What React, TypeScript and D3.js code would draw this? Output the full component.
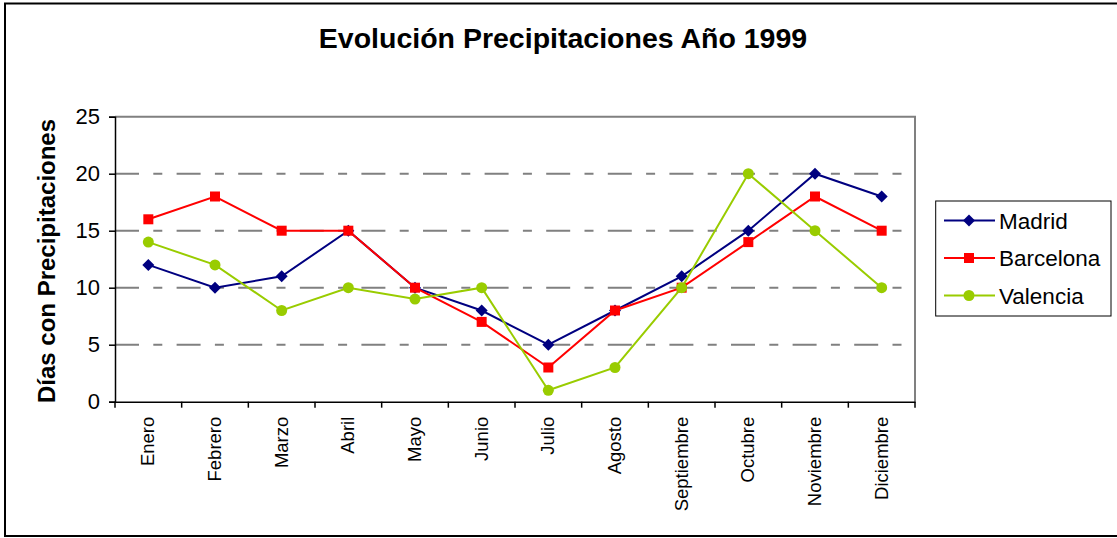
import React, { useEffect, useRef } from "react";
import * as d3 from "d3";

const months = [
  "Enero", "Febrero", "Marzo", "Abril", "Mayo", "Junio",
  "Julio", "Agosto", "Septiembre", "Octubre", "Noviembre", "Diciembre",
];
const madrid = [12, 10, 11, 15, 10, 8, 5, 8, 11, 15, 20, 18];
const barcelona = [16, 18, 15, 15, 10, 7, 3, 8, 10, 14, 18, 15];
const valencia = [14, 12, 8, 10, 9, 10, 1, 3, 10, 20, 15, 10];
const yTicks = [0, 5, 10, 15, 20, 25];

const series = [
  { name: "Madrid", values: madrid, color: "#000080", marker: "diamond" },
  { name: "Barcelona", values: barcelona, color: "#FF0000", marker: "square" },
  { name: "Valencia", values: valencia, color: "#99CC00", marker: "circle" },
];

const App = () => {
  const ref = useRef<SVGSVGElement>(null);

  useEffect(() => {
    const svg = d3.select(ref.current);
    svg.selectAll("*").remove();

    const width = 1117;
    const plot = { left: 115, right: 915, top: 116.7, bottom: 401.7 };
    const font = "Arial, 'Liberation Sans', sans-serif";

    // chart frame
    svg.append("rect")
      .attr("x", 5).attr("y", 3.5)
      .attr("width", width + 10).attr("height", 532.5)
      .attr("fill", "#fff").attr("stroke", "#000").attr("stroke-width", 2);

    const x = d3.scaleBand().domain(months).range([plot.left, plot.right]);
    const y = d3.scaleLinear().domain([0, 25]).range([plot.bottom, plot.top]);

    // gridlines
    svg.append("g")
      .selectAll("line")
      .data(yTicks.filter((t) => t > 0 && t < 25))
      .enter().append("line")
      .attr("x1", plot.left).attr("x2", plot.right)
      .attr("y1", (d) => y(d)).attr("y2", (d) => y(d))
      .attr("stroke", "#808080").attr("stroke-width", 2)
      .attr("stroke-dasharray", "24 14.3 9 14.3");

    // top and right border of plot area
    svg.append("path")
      .attr("d", `M${plot.left},${y(25)}H${plot.right}V${plot.bottom}`)
      .attr("fill", "none").attr("stroke", "#808080").attr("stroke-width", 2);

    // y axis
    const yAxis = svg.append("g")
      .attr("transform", `translate(${plot.left},0)`)
      .call(d3.axisLeft(y).tickValues(yTicks).tickSize(6).tickPadding(9));
    yAxis.select(".domain").attr("stroke", "#000").attr("stroke-width", 1.5);
    yAxis.selectAll(".tick line").attr("stroke", "#000").attr("stroke-width", 1.5);
    yAxis.selectAll(".tick text")
      .attr("font-family", font).attr("font-size", 22).attr("fill", "#000");

    // x axis
    const xAxis = svg.append("g")
      .attr("transform", `translate(0,${plot.bottom})`)
      .call(d3.axisBottom(x).tickSize(0).tickFormat(() => ""));
    xAxis.select(".domain").attr("stroke", "#000").attr("stroke-width", 1.5);
    xAxis.selectAll(".tick").remove();
    xAxis.selectAll("line.sep")
      .data(d3.range(months.length + 1))
      .enter().append("line")
      .attr("class", "sep")
      .attr("x1", (i) => plot.left + i * x.step())
      .attr("x2", (i) => plot.left + i * x.step())
      .attr("y1", 0).attr("y2", 6)
      .attr("stroke", "#000").attr("stroke-width", 1.5);

    svg.append("g")
      .selectAll("text")
      .data(months)
      .enter().append("text")
      .attr("transform", (d) =>
        `translate(${(x(d) ?? 0) + x.bandwidth() / 2 + 6},${plot.bottom + 15}) rotate(-90)`)
      .attr("text-anchor", "end")
      .attr("font-family", font).attr("font-size", 18.5).attr("fill", "#000")
      .text((d) => d);

    // titles
    svg.append("text")
      .attr("x", 563).attr("y", 48)
      .attr("text-anchor", "middle")
      .attr("font-family", font).attr("font-size", 28.5).attr("font-weight", "bold")
      .text("Evolución Precipitaciones Año 1999");

    svg.append("text")
      .attr("transform", `translate(55,261) rotate(-90)`)
      .attr("text-anchor", "middle")
      .attr("font-family", font).attr("font-size", 24).attr("font-weight", "bold")
      .text("Días con Precipitaciones");

    const drawMarker = (g: any, kind: string, color: string, cx: number, cy: number) => {
      if (kind === "diamond") {
        g.append("path")
          .attr("d", `M${cx},${cy - 6}L${cx + 6},${cy}L${cx},${cy + 6}L${cx - 6},${cy}Z`)
          .attr("fill", color);
      } else if (kind === "square") {
        g.append("rect")
          .attr("x", cx - 5).attr("y", cy - 5).attr("width", 10).attr("height", 10)
          .attr("fill", color);
      } else {
        g.append("circle").attr("cx", cx).attr("cy", cy).attr("r", 5.5).attr("fill", color);
      }
    };

    const line = d3.line<number>()
      .x((_, i) => (x(months[i]) ?? 0) + x.bandwidth() / 2)
      .y((d) => y(d));

    series.forEach((s) => {
      const g = svg.append("g");
      g.append("path")
        .attr("d", line(s.values))
        .attr("fill", "none").attr("stroke", s.color).attr("stroke-width", 2);
      s.values.forEach((v, i) =>
        drawMarker(g, s.marker, s.color, (x(months[i]) ?? 0) + x.bandwidth() / 2, y(v)));
    });

    // legend
    const legend = svg.append("g");
    legend.append("rect")
      .attr("x", 935.7).attr("y", 201).attr("width", 175.3).attr("height", 115)
      .attr("fill", "#fff").attr("stroke", "#000").attr("stroke-width", 1);
    series.forEach((s, i) => {
      const ly = 220.5 + i * 37.5;
      legend.append("line")
        .attr("x1", 944).attr("x2", 995).attr("y1", ly).attr("y2", ly)
        .attr("stroke", s.color).attr("stroke-width", 2);
      drawMarker(legend, s.marker, s.color, 969, ly);
      legend.append("text")
        .attr("x", 999).attr("y", ly + 8)
        .attr("font-family", font).attr("font-size", 22.5).attr("fill", "#000")
        .text(s.name);
    });
  }, []);

  return (
    <svg
      ref={ref}
      width={1117}
      height={538}
      style={{ position: "absolute", left: 0, top: 0, background: "#fff" }}
    />
  );
};

export default App;
